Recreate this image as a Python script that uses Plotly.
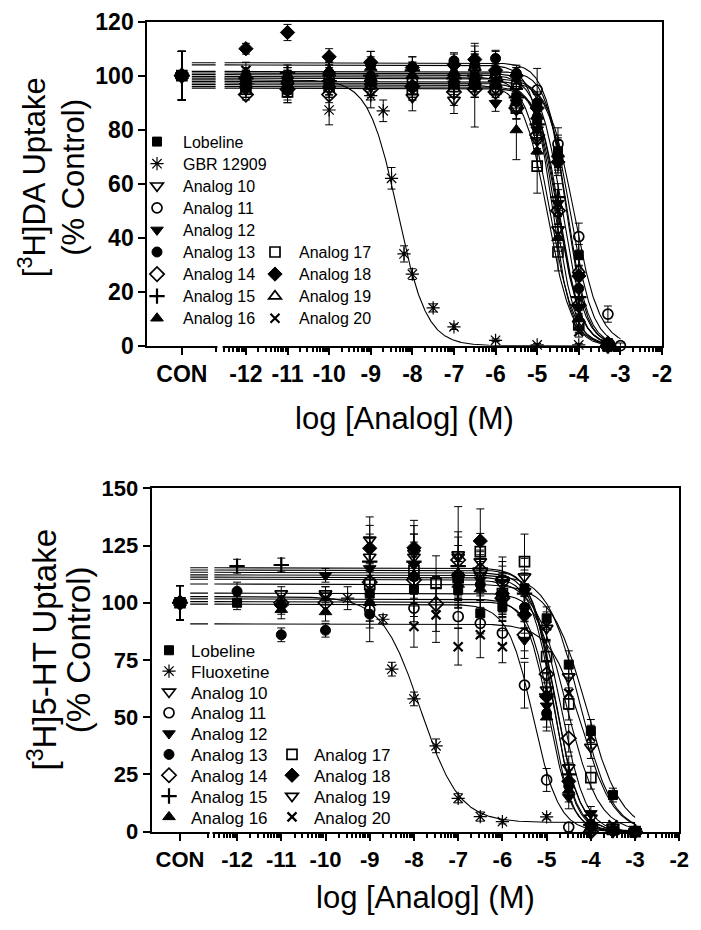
import numpy as np
import plotly.graph_objects as go

# ======================= DATA =======================
# ---- Top panel: [3H]DA uptake (% control) ----
DA_NAMES = ["Lobeline", "GBR 12909", "Analog 10", "Analog 11", "Analog 12", "Analog 13",
            "Analog 14", "Analog 15", "Analog 16", "Analog 17", "Analog 18", "Analog 19", "Analog 20"]
# log molar concentrations (first value of every y list is the CON point)
DA_CONC = [-12, -11, -10, -9, -8, -7, -6.5, -6, -5.5, -5, -4.5, -4, -3.3, -3]
DA_GBR_CONC = [-10, -9, -8.7, -8.5, -8.2, -8, -7.5, -7, -6, -5, -4]

da_lob   = [100, 96, 95, 97, 98, 96, 97, 99, 97, 92, 84, 72, 33.5, 1, None]
da_lob_e = [9, 3, 5, 4, 3, 4, 4, 5, 4, 5, 6, 6, 4, 1, None]
da_gbr   = [100, 87.3, 92.6, 87, 62, 34, 26.5, 14, 7, 2, 0.3, 0.3]
da_gbr_e = [9, 5.5, 4.5, 4, 4, 3, 2, 1.5, 1, 0.5, 0.5, 0.5]
da_a10   = [100, 95, 97, 95, 96, 92, 91, 96, 95, 88, 76, 43, 8, 0.5, None]
da_a10_e = [9, 3, 4, 3, 4, 5, 5, 4, 3, 4, 5, 5, 3, 1, None]
da_a11   = [100, 98, 99, 100, 99, 98, 100, 103, 101, 97, 94.7, 74.7, 40.4, 11.7, 0]
da_a11_e = [9, 4, 3, 4, 4, 5, 4, 5, 8, 6, 8, 6, 5, 3, 1]
da_a12   = [100, 97, 96, 98, 97, 95, 97, 98, 89.8, 90, 80, 52.8, 14.4, 0, None]
da_a12_e = [9, 3, 4, 3, 4, 4, 5, 4, 3, 4, 5, 5, 3, 1, None]
da_a13   = [100, 100, 99, 101, 104, 103, 105.5, 104, 106.4, 100.9, 90, 70, 21.2, 0.5, None]
da_a13_e = [9, 3, 4, 4, 5, 4, 3, 5, 3, 3, 4, 6, 4, 1, None]
da_a14   = [100, 93, 95, 93, 95, 96, 94, 95, 94, 88, 78, 50, 15, 0, None]
da_a14_e = [9, 2, 4, 3, 4, 4, 5, 3, 4, 4, 5, 5, 3, 1, None]
da_a15   = [100, 99, 101, 98, 100, 102, 99, 100, 98, 92, 82, 55, 18, 0, None]
da_a15_e = [9, 3, 3, 4, 4, 3, 5, 4, 3, 4, 5, 5, 4, 1, None]
da_a16   = [100, 98, 100, 102, 103, 100, 101, 96.5, 97, 79.9, 72, 40, 10, 0, None]
da_a16_e = [9, 4, 3, 3, 4, 4, 4, 15.5, 4, 11, 6, 5, 3, 1, None]
da_a17   = [100, 95, 94, 96, 97, 95, 96, 97, 95, 88, 66.5, 34.7, 7.7, 0, None]
da_a17_e = [9, 3, 4, 4, 3, 4, 4, 5, 4, 4, 10, 7, 3, 1, None]
da_a18   = [100, 110, 116, 107, 105, 103, 104, 106, 102, 100, 88, 68, 25.8, 1, None]
da_a18_e = [9, 2, 3, 3, 4, 4, 4, 5, 4, 3, 5, 5, 4, 1, None]
da_a19   = [100, 100, 98, 101, 99, 100, 101, 103, 100, 96, 85, 71, 28, 0, None]
da_a19_e = [9, 3, 4, 4, 4, 3, 4, 5, 4, 4, 5, 6, 4, 1, None]
da_a20   = [100, 102, 100, 99, 102, 101, 99, 100, 98, 94, 80, 50, 5.2, 0, None]
da_a20_e = [9, 3, 3, 4, 4, 4, 4, 5, 4, 4, 5, 5, 2, 1, None]

# fitted sigmoid parameters (same order as DA_NAMES)
DA_TOP    = [97.9, 98.5, 96.0, 99.1, 97.3, 101.6, 95.4, 100.4, 99.7, 96.7, 104.8, 101.0, 104.0]
DA_BOTTOM = [0, 0, 0, 0, 0, 0, 0, 0, 0, 0, 0, 0, 0]
DA_LOGIC50 = [-4.2, -8.35, -4.55, -4.12, -4.5, -4.3, -4.45, -4.5, -4.7, -4.75, -4.3, -4.4, -4.65]
DA_HILL   = [1.6, 1.25, 1.8, 1.4, 1.6, 1.8, 1.7, 1.6, 1.5, 1.5, 1.7, 1.6, 1.8]
DA_FIT_END = [-3.3, -4, -3.3, -3, -3.3, -3.3, -3.3, -3.3, -3.3, -3.3, -3.3, -3.3, -3.3]

# ---- Bottom panel: [3H]5-HT uptake (% control) ----
HT_NAMES = ["Lobeline", "Fluoxetine", "Analog 10", "Analog 11", "Analog 12", "Analog 13",
            "Analog 14", "Analog 15", "Analog 16", "Analog 17", "Analog 18", "Analog 19", "Analog 20"]
HT_CONC = [-12, -11, -10, -9, -8, -7.5, -7, -6.5, -6, -5.5, -5, -4.5, -4, -3.5, -3]
HT_FLX_CONC = [-9.5, -8.7, -8.5, -8, -7.5, -7, -6.5, -6, -5]

ht_lob   = [100, 100, None, None, 104, 106, None, 105.6, 95.4, 98.3, 106.3, 93.2, 73, 44, 16, 0]
ht_lob_e = [7.5, 3, None, None, 10, 12, None, 8, 9, 6, 8, 5, 6, 5, 3, 1]
ht_flx   = [100, 102, 92.8, 71, 58, 37.5, 14.6, 6.6, 4.4, 6.5]
ht_flx_e = [7.5, 5, 2, 3, 3, 3, 2, 2, 1, 1]
ht_a10   = [100, None, 104, 103, 120, 121.7, None, 121, 118, 110, 111.4, 88.9, 67.7, 37, 2, 0]
ht_a10_e = [7.5, None, 3, 4, 10, 12, None, 10, 9, 8, 8, 6, 6, 5, 1, 1]
ht_a11   = [100, None, None, None, 97, 97.7, None, 94, 91, 86.8, 64, 22.6, 2, 0.5, None, None]
ht_a11_e = [7.5, None, None, None, 8, 6, None, 5, 6, 5, 10, 5, 2, 1, None, None]
ht_a12   = [100, None, None, 112, 115, 116.5, None, 110, 110, 100.5, 83.7, 55, 15, 8, 1, 0]
ht_a12_e = [7.5, None, None, 3, 10, 10, None, 8, 9, 7, 8, 6, 5, 3, 1, 1]
ht_a13   = [100, 105, 86, 88, 95, 111.4, None, 110, 108, 104, 98, 51.7, 20, 2, 0.5, 0]
ht_a13_e = [7.5, 4, 3, 3, 12, 10, None, 8, 10, 8, 6, 6, 5, 2, 1, 1]
ht_a14   = [100, None, 100, 100, 109, 110, 99.5, 118.7, 114.3, 102, 86, 68.8, 40.8, 0, None, None]
ht_a14_e = [7.5, None, 3, 4, 9, 10, 12, 10, 8, 8, 7, 6, 6, 1, None, None]
ht_a15   = [100, 116, 116.5, None, 118, 118, None, 116, 115, 110, 104, 60, 25, 3, 0.5, 0]
ht_a15_e = [7.5, 3, 3, None, 10, 12, None, 9, 8, 10, 8, 7, 5, 2, 1, 1]
ht_a16   = [100, None, 97, 96, 100, 112, None, 108, 106, 104, 96, 50, 18, 2, 0, 0]
ht_a16_e = [7.5, None, 4, 4, 8, 10, None, 8, 9, 8, 7, 6, 5, 2, 1, 1]
ht_a17   = [100, None, None, None, 108, 114, 108.5, 111, 122.3, 104, 118, 76.5, 55.8, 23.6, 1, 0]
ht_a17_e = [7.5, None, None, None, 9, 10, 12, 10, 8, 9, 12, 7, 7, 5, 1, 1]
ht_a18   = [100, None, 99, None, 123.8, 124, None, 112, 127, 104, 94.7, 59, 22, 3, 0.5, 0]
ht_a18_e = [7.5, None, 4, None, 10, 12, None, 9, 14, 9, 8, 6, 5, 2, 1, 1]
ht_a19   = [100, None, None, 104, 127.5, 120, None, 120, 112, 108, 105, 62, 28, 6, 0.5, 0]
ht_a19_e = [7.5, None, None, 3, 10, 10, None, 22, 9, 8, 8, 7, 5, 2, 1, 1]
ht_a20   = [100, None, None, None, 102, 89.6, 94.7, 80.8, 86, 80.8, 96.9, 90, 60.5, 41.5, 3, 0]
ht_a20_e = [7.5, None, None, None, 10, 9, 12, 8, 10, 7, 8, 6, 7, 5, 1, 1]

HT_TOP    = [108.2, 102.7, 112.2, 99.4, 111.2, 100.5, 104.2, 115.3, 101.7, 110.3, 114.3, 113.3, 90.8]
HT_BOTTOM = [0, 4, 0, 0, 0, 0, 0, 0, 0, 0, 0, 0, 0]
HT_LOGIC50 = [-4.1, -7.85, -4.25, -5.3, -4.85, -4.9, -4.65, -4.8, -4.95, -4.55, -4.85, -4.8, -4.2]
HT_HILL   = [1.1, 1.0, 1.2, 1.5, 1.7, 1.8, 1.6, 1.6, 1.7, 1.2, 1.8, 1.6, 1.2]
HT_FIT_END = [-3, -3, -3, -3, -3, -3, -3, -3, -3, -3, -3, -3, -3]

DA_Y = [da_lob, da_gbr, da_a10, da_a11, da_a12, da_a13, da_a14, da_a15, da_a16, da_a17, da_a18, da_a19, da_a20]
DA_E = [da_lob_e, da_gbr_e, da_a10_e, da_a11_e, da_a12_e, da_a13_e, da_a14_e, da_a15_e, da_a16_e,
        da_a17_e, da_a18_e, da_a19_e, da_a20_e]
HT_Y = [ht_lob, ht_flx, ht_a10, ht_a11, ht_a12, ht_a13, ht_a14, ht_a15, ht_a16, ht_a17, ht_a18, ht_a19, ht_a20]
HT_E = [ht_lob_e, ht_flx_e, ht_a10_e, ht_a11_e, ht_a12_e, ht_a13_e, ht_a14_e, ht_a15_e, ht_a16_e,
        ht_a17_e, ht_a18_e, ht_a19_e, ht_a20_e]

X_TICKS = [-12, -11, -10, -9, -8, -7, -6, -5, -4, -3, -2]

# ======================= LAYOUT / STYLE =======================
W, H = 701, 930
FONT = "Liberation Sans, Arial, sans-serif"


def px_x(p):
    return p / W


def px_y(p):
    return 1 - p / H


PANELS = [
    dict(xa="x", ya="y", xm="x3", xdom=(147.3, 662.0), ydom=(345.7, 21.7), xrange=(-14.37, -2),
         yrange=(0, 120), ytick=20, con=-13.54, seg1=-12.72, seg2=-12.523, fit_start=-13.30,
         names=DA_NAMES, ys=DA_Y, es=DA_E, conc=DA_CONC, special_conc=DA_GBR_CONC,
         top=DA_TOP, bot=DA_BOTTOM, ic=DA_LOGIC50, hill=DA_HILL, fend=DA_FIT_END,
         ytitle=("[<sup>3</sup>H]DA Uptake", "(% Control)"), ytitle_x=(31.7, 73.3), ytitle_y=177.5,
         ytitle_size=31, xtitle_pos=(405, 418), leg_cols=((157, 42), (275, 38)), leg_row0=141.7,
         leg_pitch=22.08, leg_font=16, tick_font=23, sym19="triangle-up-open"),
    dict(xa="x2", ya="y2", xm="x4", xdom=(151.7, 679.3), ydom=(831.7, 488.3), xrange=(-13.93, -2),
         yrange=(0, 150), ytick=25, con=-13.29, seg1=-12.65, seg2=-12.523, fit_start=-13.06,
         names=HT_NAMES, ys=HT_Y, es=HT_E, conc=HT_CONC, special_conc=HT_FLX_CONC,
         top=HT_TOP, bot=HT_BOTTOM, ic=HT_LOGIC50, hill=HT_HILL, fend=HT_FIT_END,
         ytitle=("[<sup>3</sup>H]5-HT Uptake", "(% Control)"), ytitle_x=(42.5, 78.3), ytitle_y=650,
         ytitle_size=33, xtitle_pos=(425, 897), leg_cols=((169, 34), (292, 34)), leg_row0=650.7,
         leg_pitch=20.83, leg_font=17, tick_font=22, sym19="triangle-down-open"),
]

BASE_SYMBOLS = {
    "Lobeline": ("square", 9, 1), "GBR 12909": ("asterisk-open", 11, 1.2),
    "Fluoxetine": ("asterisk-open", 11, 1.2), "Analog 10": ("triangle-down-open", 11, 1.7),
    "Analog 11": ("circle-open", 10, 1.7), "Analog 12": ("triangle-down", 11, 1),
    "Analog 13": ("circle", 10, 1), "Analog 14": ("diamond-open", 11, 1.7),
    "Analog 15": ("cross-thin-open", 11, 2.2), "Analog 16": ("triangle-up", 11, 1),
    "Analog 17": ("square-open", 10, 1.7), "Analog 18": ("diamond", 11, 1),
    "Analog 20": ("x-thin-open", 9, 2.2),
}


def logistic(x, top, bottom, logic50, hill):
    return bottom + (top - bottom) / (1 + 10 ** ((x - logic50) * hill))


fig = go.Figure()
layout = dict(width=W, height=H, autosize=False,
              margin=dict(l=0, r=0, t=0, b=0, pad=0, autoexpand=False),
              paper_bgcolor="white", plot_bgcolor="white", showlegend=True,
              font=dict(family=FONT, color="black"))
annotations = []
shapes = []
legend_count = 0

for pi, P in enumerate(PANELS):
    # ---- fitted curves (broken at the axis break) ----
    for i, name in enumerate(P["names"]):
        xs = np.linspace(P["fit_start"], P["fend"][i], 700)
        ys = logistic(xs, P["top"][i], P["bot"][i], P["ic"][i], P["hill"][i])
        ys = [None if (P["seg1"] < xv < P["seg2"]) else float(yv) for xv, yv in zip(xs, ys)]
        fig.add_trace(go.Scatter(x=xs.tolist(), y=ys, mode="lines", xaxis=P["xa"], yaxis=P["ya"],
                                 line=dict(color="black", width=1.1), showlegend=False,
                                 hoverinfo="skip", connectgaps=False))
    # ---- data points ----
    for i, name in enumerate(P["names"]):
        conc = P["special_conc"] if i == 1 else P["conc"]
        xs = [P["con"]] + list(conc)
        if name == "Analog 19":
            sym, size, lw = P["sym19"], 11, 1.7
        else:
            sym, size, lw = BASE_SYMBOLS[name]
        legend_count += 1
        lkey = "legend" if legend_count == 1 else "legend%d" % legend_count
        if i < 9:
            col, row = 0, i
        else:
            col, row = 1, i - 4
        sym_x, iw = P["leg_cols"][col]
        ycen = P["leg_row0"] + row * P["leg_pitch"]
        layout[lkey] = dict(x=px_x(sym_x - (iw / 2 + 5)), y=px_y(ycen), xanchor="left", yanchor="middle",
                            bgcolor="rgba(0,0,0,0)", borderwidth=0, itemwidth=iw, tracegroupgap=0,
                            font=dict(family=FONT, size=P["leg_font"], color="black"))
        fig.add_trace(go.Scatter(
            x=xs, y=P["ys"][i], mode="markers", name=name, xaxis=P["xa"], yaxis=P["ya"],
            legend=lkey, cliponaxis=False,
            marker=dict(symbol=sym, size=size, color="black", line=dict(color="black", width=lw)),
            error_y=dict(type="data", array=P["es"][i], color="black", thickness=1, width=4),
        ))
    # empty trace so that the overlay axis carrying the small ticks is drawn
    fig.add_trace(go.Scatter(x=[], y=[], xaxis=P["xm"], yaxis=P["ya"], mode="markers",
                             showlegend=False, hoverinfo="skip"))

    # ---- axes ----
    xkey = "xaxis" if pi == 0 else "xaxis2"
    ykey = "yaxis" if pi == 0 else "yaxis2"
    mkey = "xaxis3" if pi == 0 else "xaxis4"
    r0, r1 = P["xrange"]
    minor_vals = [P["seg1"]]
    for d in range(-13, -2):
        for k in range(2, 10):
            v = d + np.log10(k)
            if P["seg2"] - 1e-6 <= v <= -2:
                minor_vals.append(round(float(v), 4))
    layout[xkey] = dict(
        domain=[px_x(P["xdom"][0]), px_x(P["xdom"][1])], range=[r0, r1], anchor=P["ya"],
        showline=True, linewidth=2, linecolor="black", mirror=True, showgrid=False, zeroline=False,
        ticks="outside", ticklen=7, tickwidth=2, tickcolor="black",
        tickmode="array", tickvals=[P["con"]] + X_TICKS,
        ticktext=["CON"] + [str(t) for t in X_TICKS],
        tickfont=dict(family=FONT, size=P["tick_font"], color="black", weight="bold"),
    )
    # overlay axis carrying the small (log-decade) ticks
    layout[mkey] = dict(
        overlaying=P["xa"], anchor=P["ya"], side="bottom", range=[r0, r1],
        showline=False, showgrid=False, zeroline=False, showticklabels=False,
        ticks="outside", ticklen=5, tickwidth=1.5, tickcolor="black",
        tickmode="array", tickvals=minor_vals,
    )
    layout[ykey] = dict(
        domain=[px_y(P["ydom"][0]), px_y(P["ydom"][1])], range=list(P["yrange"]), anchor=P["xa"],
        showline=True, linewidth=2, linecolor="black", mirror=True, showgrid=False, zeroline=False,
        ticks="outside", ticklen=7, tickwidth=2, tickcolor="black",
        tickvals=list(range(P["yrange"][0], P["yrange"][1] + 1, P["ytick"])),
        tickfont=dict(family=FONT, size=P["tick_font"], color="black", weight="bold"),
    )
    # white break in the x-axis line between the CON segment and the log segment
    dx0, dx1 = P["xdom"]

    def data_to_px(v, dx0=dx0, dx1=dx1, r0=r0, r1=r1):
        return dx0 + (v - r0) / (r1 - r0) * (dx1 - dx0)

    shapes.append(dict(type="rect", xref="paper", yref="paper", layer="above",
                       x0=px_x(data_to_px(P["seg1"]) + 1.5), x1=px_x(data_to_px(P["seg2"]) - 1.5),
                       y0=px_y(P["ydom"][0] + 3), y1=px_y(P["ydom"][0] - 3),
                       fillcolor="white", line=dict(width=0)))
    # axis titles (two rotated lines)
    for line_text, lx in zip(P["ytitle"], P["ytitle_x"]):
        annotations.append(dict(text=line_text, xref="paper", yref="paper",
                                x=px_x(lx), y=px_y(P["ytitle_y"]),
                                xanchor="center", yanchor="middle", textangle=-90, showarrow=False,
                                font=dict(family=FONT, size=P["ytitle_size"], color="black")))
    annotations.append(dict(text="log [Analog] (M)", xref="paper", yref="paper",
                            x=px_x(P["xtitle_pos"][0]), y=px_y(P["xtitle_pos"][1]),
                            xanchor="center", yanchor="middle", showarrow=False,
                            font=dict(family=FONT, size=31, color="black")))

layout["annotations"] = annotations
layout["shapes"] = shapes
fig.update_layout(**layout)
fig.write_html("out.html", config={"displayModeBar": False},
               post_script="document.body.style.margin='0px';document.body.style.padding='0px';"
                           "document.documentElement.style.overflow='hidden';")
